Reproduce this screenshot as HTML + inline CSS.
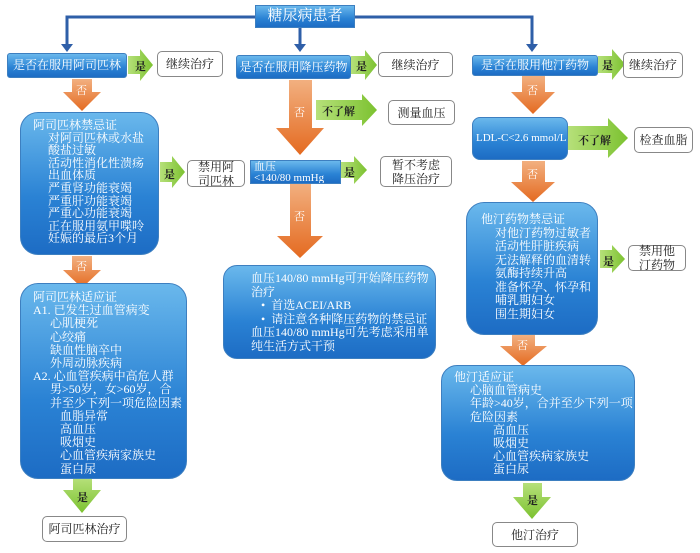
<!DOCTYPE html>
<html><head><meta charset="utf-8"><style>
body{margin:0;width:700px;height:553px;background:#fff;position:relative;overflow:hidden;font-family:"Liberation Serif","Noto Serif CJK SC","Noto Sans CJK SC",serif}
.b{position:absolute;box-sizing:border-box;background:linear-gradient(#6ab8ec,#2a82d4 60%,#1d6cc4);color:#fff;border:1px solid #3d7fc0;font-size:12px;line-height:13px;overflow:hidden}
.w{position:absolute;box-sizing:border-box;background:#fff;border:1px solid #888;border-radius:5px;color:#222;font-size:12px;text-align:center;display:flex;align-items:center;justify-content:center;line-height:14px}
.t{position:absolute;font-size:11px;color:#fff}
.tk{position:absolute;font-size:11px;color:#222;font-weight:bold}
svg{position:absolute;left:0;top:0}
</style></head><body>
<svg width="700" height="553">
<defs>
<linearGradient id="o" x1="0" y1="0" x2="0" y2="1"><stop offset="0" stop-color="#f2b080"/><stop offset="1" stop-color="#e46a20"/></linearGradient>
<linearGradient id="g" x1="0" y1="0" x2="1" y2="0"><stop offset="0" stop-color="#b6e07a"/><stop offset="1" stop-color="#7cc230"/></linearGradient>
<linearGradient id="gv" x1="0" y1="0" x2="0" y2="1"><stop offset="0" stop-color="#b6e07a"/><stop offset="1" stop-color="#7cc230"/></linearGradient>
</defs>
<g stroke="#2f5fa8" stroke-width="3" fill="none">
<polyline points="255,17 67,17 67,48"/>
<polyline points="355,17 532,17 532,48"/>
<line x1="300" y1="28" x2="300" y2="48"/>
</g>
<g fill="#2f5fa8">
<polygon points="61,44 73,44 67,52"/><polygon points="526,44 538,44 532,52"/><polygon points="294,44 306,44 300,52"/>
</g>
<g fill="url(#o)">
<polygon points="72,79 92,79 92,92 101,92 82,111 63,92 72,92"/>
<polygon points="289,80 312,80 312,128 324,128 300,155 276,128 289,128"/>
<polygon points="72,256 92,256 92,270 101,270 82,288 63,270 72,270"/>
<polygon points="290,183 311,183 311,236 323,236 300,258 277,236 290,236"/>
<polygon points="522,76 545,76 545,92 555,92 533,114 511,92 522,92"/>
<polygon points="522,161 545,161 545,182 555,182 533,202 511,182 522,182"/>
<polygon points="512,335 535,335 535,346 547,346 523,366 500,346 512,346"/>
</g>
<g fill="url(#g)">
<polygon points="128,56 140,56 140,49 153,65 140,81 140,74 128,74"/>
<polygon points="351,56 365,56 365,50 377,65 365,80 365,74 351,74"/>
<polygon points="598,56 612,56 612,49 625,64 612,80 612,73 598,73"/>
<polygon points="316,100 362,100 362,94 377,110 362,126 362,120 316,120"/>
<polygon points="160,162 172,162 172,156 185,172 172,188 172,182 160,182"/>
<polygon points="341,162 354,162 354,156 367,170 354,184 354,178 341,178"/>
<polygon points="568,126 608,126 608,118 628,138 608,158 608,150 568,150"/>
<polygon points="600,250 612,250 612,245 625,259 612,273 612,268 600,268"/>
</g>
<g fill="url(#gv)">
<polygon points="73,478 92,478 92,490 101,490 82,513 63,490 73,490"/>
<polygon points="523,483 542,483 542,497 551,497 532,519 513,497 523,497"/>
</g>
</svg>
<div class="b" style="left:255px;top:5px;width:100px;height:23px;font-size:15px;text-align:center;line-height:21px">糖尿病患者</div>
<div class="b" style="left:7px;top:53px;width:120px;height:25px;text-align:center;line-height:23px;border-radius:3px">是否在服用阿司匹林</div>
<div class="b" style="left:236px;top:55px;width:115px;height:24px;text-align:center;line-height:22px;border-radius:3px">是否在服用降压药物</div>
<div class="b" style="left:472px;top:55px;width:126px;height:21px;text-align:center;line-height:19px;border-radius:3px">是否在服用他汀药物</div>
<div class="w" style="left:157px;top:51px;width:66px;height:26px">继续治疗</div>
<div class="w" style="left:378px;top:52px;width:75px;height:25px">继续治疗</div>
<div class="w" style="left:623px;top:52px;width:60px;height:26px">继续治疗</div>
<div class="w" style="left:388px;top:100px;width:67px;height:25px">测量血压</div>
<div class="w" style="left:187px;top:160px;width:58px;height:27px">禁用阿<br>司匹林</div>
<div class="w" style="left:380px;top:156px;width:72px;height:31px">暂不考虑<br>降压治疗</div>
<div class="w" style="left:634px;top:127px;width:59px;height:26px">检查血脂</div>
<div class="w" style="left:628px;top:245px;width:58px;height:26px">禁用他<br>汀药物</div>
<div class="w" style="left:42px;top:516px;width:85px;height:26px">阿司匹林治疗</div>
<div class="w" style="left:492px;top:522px;width:86px;height:25px">他汀治疗</div>
<span class="tk" style="left:135px;top:58px">是</span><span class="tk" style="left:356px;top:58px">是</span><span class="tk" style="left:602px;top:57px">是</span>
<span class="tk" style="left:322px;top:103px">不了解</span><span class="tk" style="left:164px;top:166px">是</span><span class="tk" style="left:344px;top:164px">是</span>
<span class="tk" style="left:578px;top:132px">不了解</span><span class="tk" style="left:603px;top:253px">是</span>
<span class="tk" style="left:77px;top:489px">是</span><span class="tk" style="left:527px;top:492px">是</span>
<span class="t" style="left:76px;top:82px">否</span><span class="t" style="left:294px;top:104px">否</span><span class="t" style="left:76px;top:258px">否</span><span class="t" style="left:294px;top:208px">否</span><span class="t" style="left:527px;top:82px">否</span><span class="t" style="left:527px;top:166px">否</span><span class="t" style="left:517px;top:337px">否</span>
<div class="b" style="left:20px;top:112px;width:139px;height:143px;border-radius:18px;padding:6px 0 0 12px;line-height:12.6px">阿司匹林禁忌证<div style="padding-left:15px">对阿司匹林或水盐<br>酸盐过敏<br>活动性消化性溃疡<br>出血体质<br>严重肾功能衰竭<br>严重肝功能衰竭<br>严重心功能衰竭<br>正在服用氨甲喋呤<br>妊娠的最后3个月</div></div>
<div class="b" style="left:250px;top:160px;width:91px;height:24px;font-size:11px;line-height:11px;padding:1px 0 0 3px">血压<br>&lt;140/80 mmHg</div>
<div class="b" style="left:20px;top:283px;width:167px;height:196px;border-radius:18px;padding:7px 0 0 12px;line-height:13.2px">阿司匹林适应证<br>A1. 已发生过血管病变<div style="padding-left:17px">心肌梗死<br>心绞痛<br>缺血性脑卒中<br>外周动脉疾病</div>A2. 心血管疾病中高危人群<div style="padding-left:17px">男&gt;50岁，女&gt;60岁，合<br>并至少下列一项危险因素<div style="padding-left:10px">血脂异常<br>高血压<br>吸烟史<br>心血管疾病家族史<br>蛋白尿</div></div></div>
<div class="b" style="left:223px;top:265px;width:213px;height:94px;border-radius:14px;padding:6px 0 0 27px;line-height:13.5px">血压140/80 mmHg可开始降压药物<br>治疗<div style="padding-left:10px">• &nbsp;首选ACEI/ARB<br>• &nbsp;请注意各种降压药物的禁忌证</div>血压140/80 mmHg可先考虑采用单<br>纯生活方式干预</div>
<div class="b" style="left:472px;top:117px;width:96px;height:43px;border-radius:8px;font-size:11px;line-height:41px;padding-left:3px;white-space:nowrap">LDL-C&lt;2.6 mmol/L</div>
<div class="b" style="left:466px;top:202px;width:132px;height:133px;border-radius:18px;padding:10px 0 0 14px;line-height:13.5px">他汀药物禁忌证<div style="padding-left:14px">对他汀药物过敏者<br>活动性肝脏疾病<br>无法解释的血清转<br>氨酶持续升高<br>准备怀孕、怀孕和<br>哺乳期妇女<br>围生期妇女</div></div>
<div class="b" style="left:441px;top:365px;width:194px;height:116px;border-radius:16px;padding:5px 0 0 12px;line-height:13.2px">他汀适应证<div style="padding-left:16px">心脑血管病史<br>年龄&gt;40岁，合并至少下列一项<br>危险因素<div style="padding-left:23px">高血压<br>吸烟史<br>心血管疾病家族史<br>蛋白尿</div></div></div>
</body></html>
